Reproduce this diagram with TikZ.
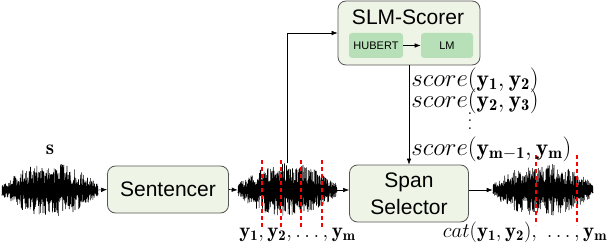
\documentclass[tikz,border=0pt]{standalone}
\usepackage{fontspec}
\setsansfont{Liberation Sans}
\usetikzlibrary{arrows.meta}

\definecolor{boxfill}{HTML}{EEF5E6}
\definecolor{innerfill}{HTML}{B8E0B8}
\definecolor{boxline}{HTML}{555555}

\tikzset{
  block/.style={draw=boxline, line width=0.8pt, fill=boxfill, rounded corners=8pt,
    font=\sffamily\fontsize{21}{27}\selectfont, align=center, inner sep=0pt},
  subblock/.style={fill=innerfill, rounded corners=3pt, inner sep=0pt,
    font=\sffamily\fontsize{11}{13}\selectfont, minimum width=54pt, minimum height=25pt},
  wavebox/.style={minimum height=54pt, inner sep=0pt},
  wave/.style={line width=0.6pt},
  cut/.style={red, line width=1.2pt, dash pattern=on 4pt off 3pt},
  lbl/.style={font=\fontsize{21}{22}\selectfont, inner sep=0pt},
  scorelbl/.style={font=\fontsize{23.5}{24}\selectfont, inner sep=0pt, anchor=west}
}

\begin{document}
\begin{tikzpicture}[x=1pt, y=-1pt, line width=0.6pt, >={Latex[length=6pt,width=4.5pt]}]
      \useasboundingbox (0,0) rectangle (610,246);

      % WAVEFORMS
      \node[wavebox, minimum width=96pt]  (wav1) at (50,190)    {};
      \node[wavebox, minimum width=99pt]  (wav2) at (287.5,190) {};
      \node[wavebox, minimum width=100pt] (wav3) at (543,190)   {};

      \foreach \wx/\ww/\wseed in {50/96/11, 287.5/99/23, 543/100/37}{
        \pgfmathsetseed{\wseed}
        \draw[wave] plot[variable=\t, domain=0:300, samples=301]
          ({\wx+(\t/150-1)*\ww/2},
           {190+27*(0.22+0.78*(1-(\t/150-1)*(\t/150-1)))*(0.25+0.75*rnd)*(1-2*mod(\t,2))});
      }

      % cut points
      \foreach \cx in {262,281,301,322}
        \draw[cut] (\cx,160) -- (\cx,228);
      \foreach \cx in {536,577}
        \draw[cut] (\cx,155) -- (\cx,225);

      % BLOCKS
      \node[block, minimum width=121pt, minimum height=47pt] (sent) at (168,189.5) {Sentencer};
      \node[block, minimum width=119pt, minimum height=57pt] (span) at (409,193.5) {Span\\Selector};

      \node[block, minimum width=142pt, minimum height=64pt] (slm) at (409,33) {};
      \node[font=\sffamily\fontsize{21}{24}\selectfont, inner sep=0pt] (slmtitle) at (408,17) {SLM-Scorer};
      \node[subblock] (hubert) at (376,45.5) {HUBERT};
      \node[subblock, minimum width=52pt] (lm) at (447,45.5) {LM};

      % ARROWS
      \draw[->] (wav1.east) -- (sent.west);
      \draw[->] (sent.east) -- (wav2.west);
      \draw[->] (wav2.east) -- (wav2.east -| span.west);
      \draw[->] (span.east |- wav3.west) -- (wav3.west);
      \draw[->] (wav2.north) |- (slm.west);
      \draw[->] (slm.south) -- (span.north);
      \draw[->] (hubert) -- (lm);

      % NOTES
      \node[lbl] (s) at (50,150) {$\mathbf{s}$};
      \node[scorelbl] (sc1) at (411,80)  {$score(\mathbf{y_1},\mathbf{y_2})$};
      \node[scorelbl] (sc2) at (411,101) {$score(\mathbf{y_2},\mathbf{y_3})$};
      \node[lbl] (scdots) at (470,121)
        {\vbox{\baselineskip7.5pt\lineskiplimit0pt\hbox{.}\hbox{.}\hbox{.}}};
      \node[scorelbl] (scm) at (411,149) {$score(\mathbf{y_{m-1}},\mathbf{y_m})$};
      \node[lbl] (ylist) at (297.5,235) {$\mathbf{y_1},\mathbf{y_2},\ldots,\mathbf{y_m}$};
      \node[lbl] (catlist) at (525,232) {$cat(\mathbf{y_1},\mathbf{y_2}),\ \ldots,\mathbf{y_m}$};

\end{tikzpicture}
\end{document}
